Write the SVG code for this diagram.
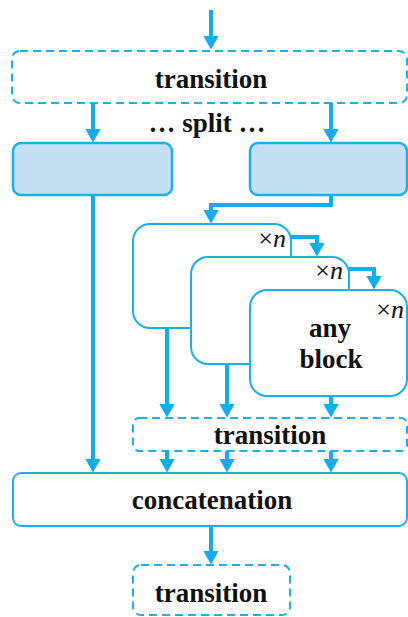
<svg xmlns="http://www.w3.org/2000/svg" width="408" height="617" viewBox="0 0 408 617">
<style>
.lbl{font-family:"Liberation Serif","Times New Roman","DejaVu Serif",serif;font-weight:bold;font-size:27px;fill:#111;text-anchor:middle}
.xn{font-family:"Liberation Serif","Times New Roman","DejaVu Serif",serif;font-size:26px;fill:#111;text-anchor:end}
.dash{fill:#fff;stroke:#1ab0ec;stroke-width:2;stroke-dasharray:8 5}
.solid{fill:#fff;stroke:#1ab0ec;stroke-width:2}
.split{fill:#c5e0f2;stroke:#1ab0ec;stroke-width:2.5}
.con{fill:none;stroke:#12aeec;stroke-width:4}
</style>
<defs>
<marker id="ah" viewBox="0 0 14 16" refX="0.5" refY="8" markerWidth="14" markerHeight="16" markerUnits="userSpaceOnUse" orient="auto">
<path d="M0,0 L14,8 L0,16 z" fill="#12aeec"/>
</marker>
</defs>
<g id="transition-top">
<rect class="dash" x="12" y="51" width="395" height="52" rx="8"/>
<text class="lbl" x="211" y="88">transition</text>
</g>
<g id="split-label">
<text class="lbl" x="207" y="132">… split …</text>
</g>
<g id="split-left">
<rect class="split" x="13" y="143" width="159" height="52" rx="8"/>
</g>
<g id="split-right">
<rect class="split" x="250" y="143" width="157" height="52" rx="8"/>
</g>
<g id="block1">
<rect class="solid" x="133" y="224" width="158" height="104" rx="17"/>
<text class="xn" x="286" y="247">×<tspan font-style="italic">n</tspan></text>
</g>
<g id="block2">
<rect class="solid" x="191" y="257" width="158" height="107" rx="17"/>
<text class="xn" x="343" y="279">×<tspan font-style="italic">n</tspan></text>
</g>
<g id="block3">
<rect class="solid" x="250" y="290" width="157" height="106" rx="17"/>
<text class="xn" x="404" y="318">×<tspan font-style="italic">n</tspan></text>
<text class="lbl" x="330" y="337">any</text>
<text class="lbl" x="331" y="368">block</text>
</g>
<g id="transition-mid">
<rect class="dash" x="133" y="418" width="274" height="33" rx="6"/>
<text class="lbl" x="270" y="444">transition</text>
</g>
<g id="concatenation">
<rect class="solid" x="13" y="473" width="394" height="53" rx="8"/>
<text class="lbl" x="212" y="509">concatenation</text>
</g>
<g id="transition-bottom">
<rect class="dash" x="133" y="565" width="157" height="50" rx="8"/>
<text class="lbl" x="211" y="602">transition</text>
</g>
<g id="connectors">
<path class="con" d="M211,10 V36" marker-end="url(#ah)"/>
<path class="con" d="M93,103 V129" marker-end="url(#ah)"/>
<path class="con" d="M331,103 V129" marker-end="url(#ah)"/>
<path class="con" d="M93,195 V459" marker-end="url(#ah)"/>
<path class="con" d="M331,195 V205 H211 V210" marker-end="url(#ah)"/>
<path class="con" d="M291,237 H317 V243" marker-end="url(#ah)"/>
<path class="con" d="M349,269 H374 V276" marker-end="url(#ah)"/>
<path class="con" d="M167,328 V404" marker-end="url(#ah)"/>
<path class="con" d="M227,364 V404" marker-end="url(#ah)"/>
<path class="con" d="M331,396 V404" marker-end="url(#ah)"/>
<path class="con" d="M167,451 V459" marker-end="url(#ah)"/>
<path class="con" d="M227,451 V459" marker-end="url(#ah)"/>
<path class="con" d="M331,451 V459" marker-end="url(#ah)"/>
<path class="con" d="M211,526 V551" marker-end="url(#ah)"/>
</g>
</svg>
